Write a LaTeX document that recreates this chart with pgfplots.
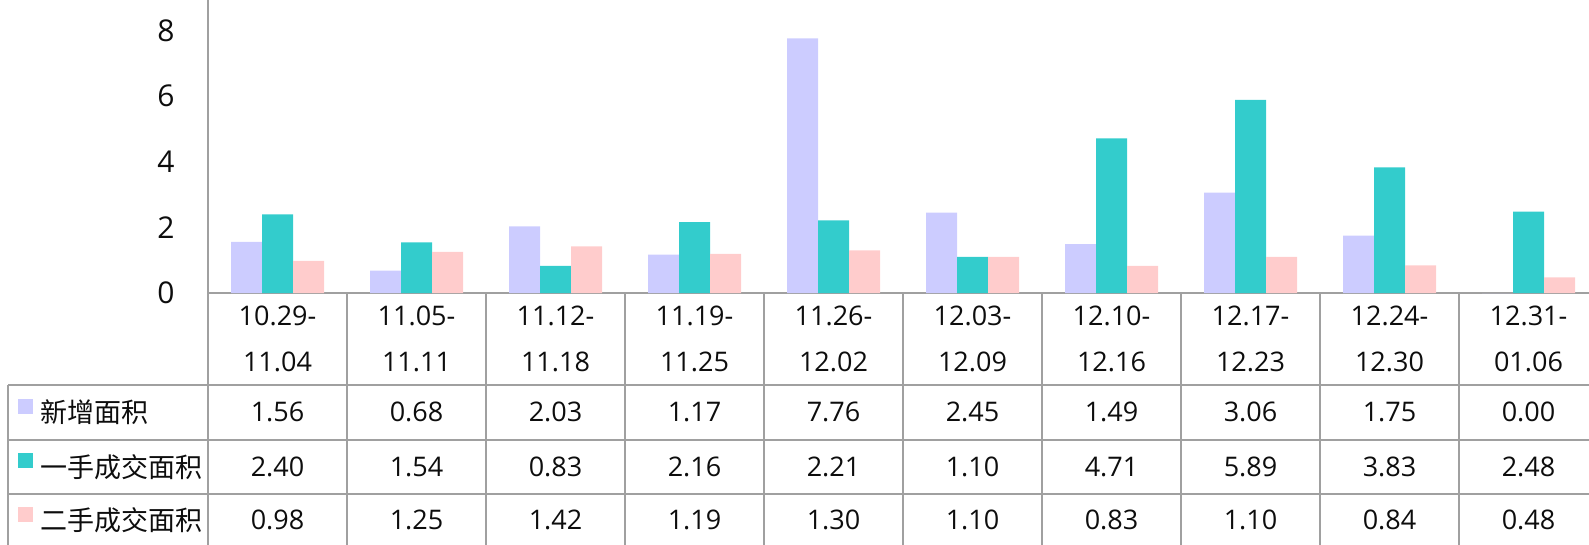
\documentclass[border=0pt]{standalone}
\usepackage{pgfplots}
\pgfplotsset{compat=1.18}
\usepackage{pgfplotstable}
\usepackage{fontspec}
\setmainfont{Open Sans}
\newfontfamily\cjk{Noto Sans CJK SC}
\definecolor{cA}{HTML}{CCCCFF}
\definecolor{cB}{HTML}{33CCCC}
\definecolor{cC}{HTML}{FFCCCC}
\definecolor{gridc}{HTML}{A0A0A0}
\definecolor{txt}{HTML}{0D0D0D}
\pgfplotstableread{
x a b c
0 1.56 2.40 0.98
1 0.68 1.54 1.25
2 2.03 0.83 1.42
3 1.17 2.16 1.19
4 7.76 2.21 1.30
5 2.45 1.10 1.10
6 1.49 4.71 0.83
7 3.06 5.89 1.10
8 1.75 3.83 0.84
9 0.00 2.48 0.48
}\data
\begin{document}
\begin{tikzpicture}
\begin{axis}[
  at={(104pt,-146.5pt)}, anchor=south west,
  width=695pt, height=146.5pt, scale only axis,
  xmin=-0.5, xmax=9.5, ymin=0, ymax=8.93,
  axis lines*=left,
  axis line style={gridc, line width=0.8pt},
  xtick=\empty, ytick={0,2,4,6,8},
  major tick length=0pt,
  yticklabel style={font=\fontsize{15}{17}\selectfont, text=txt, inner sep=0pt, xshift=-16.5pt},
  /pgf/number format/assume math mode=true,
  ybar=0pt, bar width=15.5pt,
  clip=false,
]
\addplot[fill=cA, draw=none] table[x=x,y=a]{\data};
\addplot[fill=cB, draw=none] table[x=x,y=b]{\data};
\addplot[fill=cC, draw=none] table[x=x,y=c]{\data};
\end{axis}
\begin{scope}[x=0.5pt,y=-0.5pt]
  % table grid
  \foreach \k in {0,...,10} {
    \draw[gridc, line width=0.8pt] ({208+139*\k},293) -- ({208+139*\k},560);
  }
  \draw[gridc, line width=0.8pt] (8,385) -- (8,560);
  \foreach \yy in {385,440,494} {
    \draw[gridc, line width=0.8pt] (8,\yy) -- (1600,\yy);
  }
  % header labels
  \foreach \a/\b [count=\k from 0] in {10.29-/11.04, 11.05-/11.11, 11.12-/11.18, 11.19-/11.25, 11.26-/12.02, 12.03-/12.09, 12.10-/12.16, 12.17-/12.23, 12.24-/12.30, 12.31-/01.06} {
    \node[font=\fontsize{13.5}{16}\selectfont, text=txt] at ({277.5+139*\k},316) {\a};
    \node[font=\fontsize{13.5}{16}\selectfont, text=txt] at ({277.5+139*\k},362) {\b};
  }
  % rows
  \foreach \v [count=\k from 0] in {1.56,0.68,2.03,1.17,7.76,2.45,1.49,3.06,1.75,0.00} {
    \node[font=\fontsize{13.5}{16}\selectfont, text=txt] at ({277.5+139*\k},412) {\v};
  }
  \foreach \v [count=\k from 0] in {2.40,1.54,0.83,2.16,2.21,1.10,4.71,5.89,3.83,2.48} {
    \node[font=\fontsize{13.5}{16}\selectfont, text=txt] at ({277.5+139*\k},467) {\v};
  }
  \foreach \v [count=\k from 0] in {0.98,1.25,1.42,1.19,1.30,1.10,0.83,1.10,0.84,0.48} {
    \node[font=\fontsize{13.5}{16}\selectfont, text=txt] at ({277.5+139*\k},520) {\v};
  }
  % legend keys
  \fill[cA] (18,399) rectangle (33,414);
  \fill[cB] (18,453) rectangle (33,468);
  \fill[cC] (18,507) rectangle (33,522);
  \node[anchor=west, inner sep=0pt, font=\cjk\fontsize{13.5}{16}\selectfont, text=txt] at (40,412) {新增面积};
  \node[anchor=west, inner sep=0pt, font=\cjk\fontsize{13.5}{16}\selectfont, text=txt] at (40,467) {一手成交面积};
  \node[anchor=west, inner sep=0pt, font=\cjk\fontsize{13.5}{16}\selectfont, text=txt] at (40,520) {二手成交面积};
  \pgfresetboundingbox
  \path (0,0) rectangle (1589,545);
\end{scope}
\end{tikzpicture}
\end{document}
